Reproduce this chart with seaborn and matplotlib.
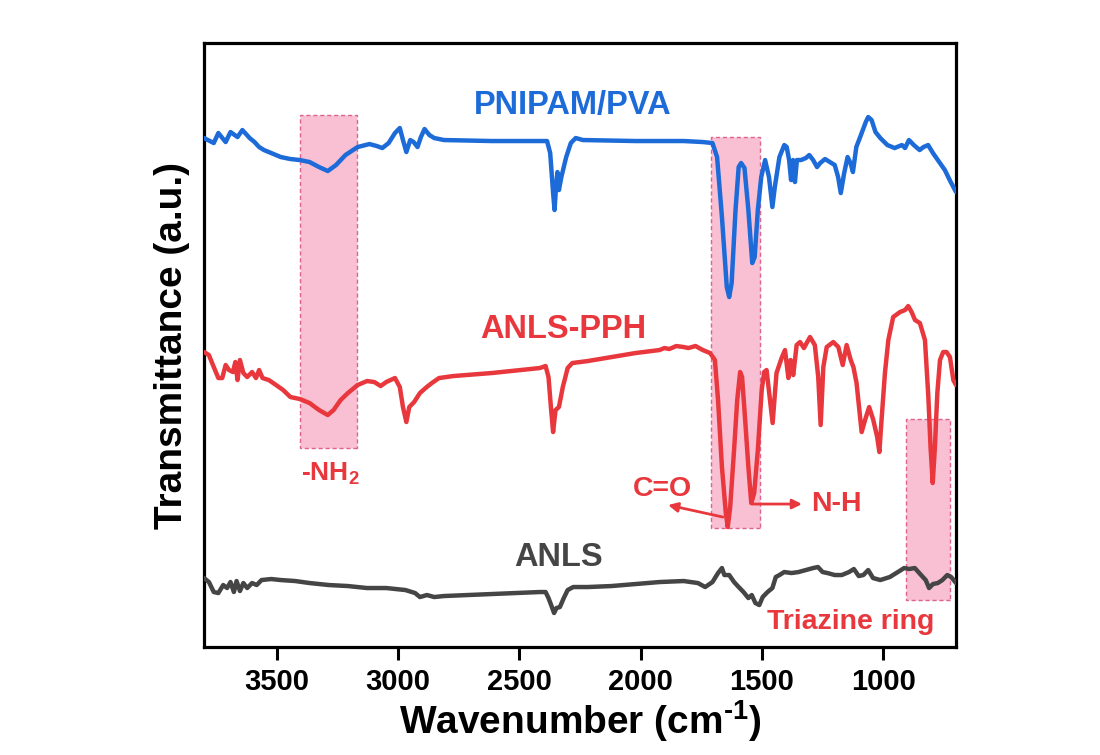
import numpy as np
import pandas as pd
import matplotlib
matplotlib.use("Agg")
import matplotlib.pyplot as plt
from matplotlib.patches import Rectangle
import seaborn as sns

# ---------------- data ----------------
blue_wn = [3800, 3760, 3741, 3711, 3691, 3662, 3642, 3612, 3592, 3573, 3553, 3523, 3484, 3444, 3405,
           3365, 3326, 3290, 3256, 3217, 3167, 3118, 3088, 3065, 3039, 3013, 2993, 2980, 2966, 2950,
           2936, 2920, 2906, 2891, 2871, 2851, 2811, 2614, 2386, 2373, 2361, 2355, 2349, 2343, 2337,
           2327, 2307, 2288, 2268, 2238, 2021, 1823, 1744, 1704, 1685, 1665, 1645, 1635, 1625, 1609,
           1596, 1586, 1572, 1556, 1540, 1530, 1517, 1503, 1487, 1471, 1457, 1447, 1428, 1408, 1398,
           1388, 1380, 1372, 1364, 1356, 1339, 1319, 1305, 1289, 1273, 1260, 1240, 1220, 1200, 1186,
           1175, 1161, 1147, 1135, 1125, 1111, 1092, 1072, 1062, 1048, 1032, 1012, 983, 953, 923,
           910, 894, 874, 850, 834, 815, 795, 775, 746, 726, 700]
blue_t = [509, 504, 514, 505, 515, 510, 517, 509, 505, 500, 497, 494, 490, 488, 487,
          485, 480, 476, 482, 492, 500, 503, 501, 499, 504, 514, 519, 507, 495, 507,
          505, 500, 510, 518, 512, 509, 507, 506, 506, 494, 454, 437, 460, 475, 457,
          470, 490, 504, 509, 507, 506, 506, 505, 504, 490, 430, 360, 350, 364, 437,
          480, 484, 479, 437, 384, 390, 437, 470, 487, 470, 440, 460, 490, 502, 500,
          487, 467, 487, 465, 487, 487, 489, 492, 487, 480, 484, 488, 485, 482, 470,
          454, 474, 490, 484, 475, 500, 512, 525, 530, 527, 515, 509, 502, 499, 502,
          499, 507, 502, 497, 500, 502, 494, 487, 477, 467, 455]

red_wn = [3800, 3780, 3760, 3741, 3725, 3711, 3697, 3681, 3671, 3662, 3652, 3638, 3622, 3602, 3586,
          3573, 3559, 3533, 3503, 3474, 3444, 3405, 3365, 3326, 3290, 3266, 3237, 3207, 3167, 3128,
          3098, 3072, 3049, 3013, 2993, 2980, 2966, 2954, 2934, 2910, 2887, 2861, 2831, 2772, 2614,
          2416, 2392, 2380, 2369, 2361, 2351, 2337, 2321, 2301, 2282, 2218, 2120, 2021, 1922, 1902,
          1882, 1853, 1823, 1803, 1774, 1744, 1714, 1694, 1681, 1665, 1649, 1641, 1631, 1615, 1602,
          1590, 1582, 1570, 1556, 1544, 1532, 1517, 1501, 1491, 1481, 1456, 1440, 1419, 1405, 1391,
          1382, 1371, 1357, 1343, 1327, 1302, 1282, 1268, 1258, 1247, 1233, 1206, 1185, 1167, 1151,
          1134, 1123, 1110, 1089, 1075, 1058, 1041, 1025, 1016, 1007, 993, 979, 959, 931, 910,
          897, 883, 869, 849, 828, 814, 805, 796, 787, 777, 766, 753, 739, 725, 711, 700]
red_t = [295, 292, 280, 269, 269, 282, 277, 275, 285, 267, 287, 274, 270, 275, 269,
         277, 269, 267, 262, 257, 250, 248, 244, 237, 232, 237, 247, 254, 262, 266,
         265, 261, 265, 269, 260, 240, 225, 240, 245, 254, 259, 264, 269, 271, 274,
         279, 281, 270, 237, 215, 237, 240, 260, 279, 284, 286, 290, 294, 297, 299,
         298, 301, 300, 299, 301, 297, 294, 287, 247, 180, 134, 120, 140, 197, 247,
         275, 270, 230, 180, 144, 154, 197, 257, 275, 277, 224, 274, 289, 297, 269,
         287, 272, 302, 305, 299, 310, 302, 270, 222, 280, 300, 305, 300, 282, 302,
         287, 280, 264, 215, 227, 240, 227, 210, 195, 227, 274, 307, 330, 335, 337,
         341, 335, 327, 324, 307, 250, 200, 164, 200, 254, 287, 295, 295, 290, 267, 262]

gray_wn = [3800, 3780, 3760, 3741, 3721, 3705, 3691, 3677, 3666, 3652, 3638, 3622, 3602, 3583, 3563,
           3523, 3484, 3424, 3365, 3286, 3207, 3128, 3049, 2970, 2930, 2910, 2881, 2851, 2811, 2713,
           2614, 2515, 2416, 2392, 2380, 2369, 2357, 2347, 2333, 2317, 2301, 2278, 2218, 2120, 2021,
           1922, 1823, 1764, 1734, 1704, 1681, 1665, 1655, 1635, 1615, 1596, 1576, 1556, 1542, 1527,
           1511, 1497, 1477, 1457, 1443, 1428, 1408, 1378, 1349, 1319, 1289, 1269, 1250, 1230, 1200,
           1171, 1141, 1121, 1101, 1082, 1062, 1042, 1012, 973, 933, 914, 894, 870, 844, 825,
           811, 795, 775, 756, 736, 720, 700]
gray_t = [69, 65, 55, 54, 62, 59, 65, 55, 66, 56, 64, 59, 64, 62, 67,
          68, 67, 66, 64, 62, 61, 59, 59, 57, 54, 50, 52, 50, 51, 52,
          53, 54, 55, 55, 49, 42, 34, 39, 40, 49, 57, 60, 60, 61, 63,
          65, 66, 64, 60, 65, 74, 79, 72, 72, 65, 60, 55, 49, 52, 44,
          42, 50, 55, 59, 70, 72, 75, 74, 75, 77, 79, 80, 75, 74, 72,
          72, 75, 78, 71, 72, 77, 69, 67, 70, 76, 79, 78, 79, 72, 67,
          59, 63, 64, 67, 72, 70, 64]

# highlighted bands: (wn_high, wn_low, t_bottom, t_top)
band_hi = [3405, 1710, 905]
band_lo = [3170, 1510, 725]
band_bot = [199, 119, 47]
band_top = [532, 510, 228]

series_names = ["PNIPAM/PVA", "ANLS-PPH", "ANLS"]
name_x = [2279, 2320, 2337]
name_y = [542, 318, 90]

# ---------------- style ----------------
BLUE = "#1c6bd8"
RED = "#e8383d"
GRAY = "#454545"
PINK = "#f9bfd3"
PINK_EDGE = "#e0628f"

sns.set_theme(style="white")
plt.rcParams["font.family"] = ["Liberation Sans", "DejaVu Sans"]
plt.rcParams["font.weight"] = "bold"
plt.rcParams["mathtext.fontset"] = "custom"
plt.rcParams["mathtext.rm"] = "Liberation Sans:bold"
plt.rcParams["mathtext.bf"] = "Liberation Sans:bold"
plt.rcParams["mathtext.default"] = "bf"
plt.rcParams["text.color"] = "black"
plt.rcParams["axes.labelcolor"] = "black"
plt.rcParams["xtick.color"] = "black"

fig = plt.figure(figsize=(11, 7.55), dpi=100)
ax = fig.add_axes([0.1855, 0.1430, 0.6836, 0.8000])

for hi, lo, b, t in zip(band_hi, band_lo, band_bot, band_top):
    ax.add_patch(Rectangle((lo, b), hi - lo, t - b, facecolor=PINK, edgecolor=PINK_EDGE,
                           linestyle=(0, (3, 2)), linewidth=1.0, zorder=1))

df_b = pd.DataFrame({"wn": blue_wn, "T": blue_t})
df_r = pd.DataFrame({"wn": red_wn, "T": red_t})
df_g = pd.DataFrame({"wn": gray_wn, "T": gray_t})
for df, c in [(df_b, BLUE), (df_r, RED), (df_g, GRAY)]:
    sns.lineplot(data=df, x="wn", y="T", color=c, linewidth=3.2, ax=ax, zorder=3,
                 estimator=None, sort=True, solid_joinstyle="round", solid_capstyle="round")

for name, x, y, c in zip(series_names, name_x, name_y, [BLUE, RED, GRAY]):
    ax.text(x, y, name, color=c, fontsize=23.5, fontweight="bold", ha="center", va="center")

ax.text(3281, 173, r"-NH$_2$", color=RED, fontsize=19, fontweight="bold", ha="center", va="center")
ax.text(1912, 158, "C=O", color=RED, fontsize=20.5, fontweight="bold", ha="center", va="center")
ax.text(1195, 143, "N-H", color=RED, fontsize=20.5, fontweight="bold", ha="center", va="center")
ax.text(1133, 25, "Triazine ring", color=RED, fontsize=20.5, fontweight="bold", ha="center", va="center")

ax.annotate("", xy=(1887, 142), xytext=(1661, 130),
            arrowprops=dict(arrowstyle="-|>", color=RED, lw=2, mutation_scale=14,
                            shrinkA=0, shrinkB=0), zorder=4)
ax.annotate("", xy=(1335, 143), xytext=(1541, 143),
            arrowprops=dict(arrowstyle="-|>", color=RED, lw=2, mutation_scale=14,
                            shrinkA=0, shrinkB=0), zorder=4)

ax.set_xlim(3800, 700)
ax.set_ylim(0, 604)
ax.set_xticks([3500, 3000, 2500, 2000, 1500, 1000])
ax.set_xticklabels(["3500", "3000", "2500", "2000", "1500", "1000"])
ax.set_yticks([])
ax.tick_params(axis="x", direction="out", length=9, width=2.2, labelsize=21, pad=6,
               bottom=True, top=False, colors="black")
for lab in ax.get_xticklabels():
    lab.set_fontweight("bold")
for s in ax.spines.values():
    s.set_visible(True)
    s.set_linewidth(2.3)
    s.set_color("black")

ax.set_xlabel(r"Wavenumber (cm$^{\text{-}1}$)", fontsize=28, fontweight="bold", labelpad=2)
ax.set_ylabel("Transmittance (a.u.)", fontsize=28, fontweight="bold", labelpad=10)

fig.savefig("out.png", dpi=100, facecolor="white")
